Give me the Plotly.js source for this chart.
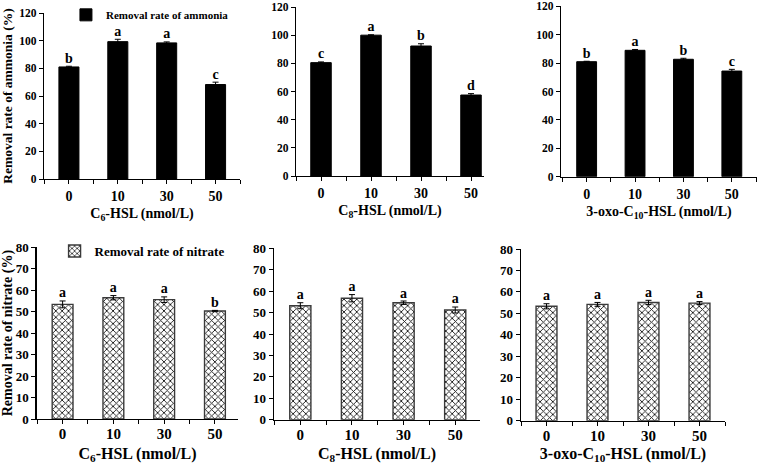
<!DOCTYPE html>
<html>
<head>
<meta charset="utf-8">
<script src="https://cdn.plot.ly/plotly-3.0.1.min.js"></script>
<style>html,body{margin:0;padding:0;background:#fff;}#chart{width:758px;height:464px;}</style>
</head>
<body>
<div id="chart"></div>
<script>
const categories = ['0', '10', '30', '50'];

const ammoniaC6 = [81, 99.3, 98.4, 68.3];
const ammoniaC6Err = [0.5, 1.7, 0.7, 1.7];
const ammoniaC6Letters = ['b', 'a', 'a', 'c'];

const ammoniaC8 = [80.5, 100, 92.3, 57.5];
const ammoniaC8Err = [0.5, 0.3, 1.6, 1.0];
const ammoniaC8Letters = ['c', 'a', 'b', 'd'];

const ammoniaC10 = [81, 89, 82.7, 74.4];
const ammoniaC10Err = [0.3, 0.6, 0.7, 1.2];
const ammoniaC10Letters = ['b', 'a', 'b', 'c'];

const nitrateC6 = [53.4, 56.5, 55.6, 50.3];
const nitrateC6Err = [1.6, 1.0, 1.3, 0.3];
const nitrateC6Letters = ['a', 'a', 'a', 'b'];

const nitrateC8 = [53.2, 56.7, 54.6, 51.2];
const nitrateC8Err = [1.4, 1.7, 0.8, 1.4];
const nitrateC8Letters = ['a', 'a', 'a', 'a'];

const nitrateC10 = [53.3, 54.2, 55.1, 54.8];
const nitrateC10Err = [1.2, 0.9, 1.0, 0.7];
const nitrateC10Letters = ['a', 'a', 'a', 'a'];

const xTitles = ['C<sub>6</sub>-HSL (nmol/L)', 'C<sub>8</sub>-HSL (nmol/L)', '3-oxo-C<sub>10</sub>-HSL (nmol/L)'];
const legendAmmonia = 'Removal rate of ammonia';
const legendNitrate = 'Removal rate of nitrate';
const yTitleAmmonia = 'Removal rate of ammonia (%)';
const yTitleNitrate = 'Removal rate of nitrate (%)';

const FONT = 'Liberation Serif, Times New Roman, serif';
const W = 758, H = 464;
const idx = categories.map((c, i) => i);

// panel geometry (pixels): [axisLeft, axisRight, yZeroPx, yTopPx]
const panels = [
  {vals: ammoniaC6, err: ammoniaC6Err, let: ammoniaC6Letters, px: [44, 240, 179, 13], xr: [-0.51, 3.5], ymax: 120, dy: 20, nitrate: false, title: xTitles[0], name: legendAmmonia, legend: 'legend', showleg: true},
  {vals: ammoniaC8, err: ammoniaC8Err, let: ammoniaC8Letters, px: [296, 484, 176, 7], xr: [-0.5, 3.26], ymax: 120, dy: 20, nitrate: false, title: xTitles[1], name: legendAmmonia, legend: 'legend', showleg: false},
  {vals: ammoniaC10, err: ammoniaC10Err, let: ammoniaC10Letters, px: [561, 757, 176.7, 6.3], xr: [-0.53, 3.52], ymax: 120, dy: 20, nitrate: false, title: xTitles[2], name: legendAmmonia, legend: 'legend', showleg: false},
  {vals: nitrateC6, err: nitrateC6Err, let: nitrateC6Letters, px: [36.7, 238.3, 419, 247.3], xr: [-0.51, 3.46], ymax: 80, dy: 10, nitrate: true, title: xTitles[0], name: legendNitrate, legend: 'legend2', showleg: true},
  {vals: nitrateC8, err: nitrateC8Err, let: nitrateC8Letters, px: [274, 480, 419.7, 248.3], xr: [-0.51, 3.48], ymax: 80, dy: 10, nitrate: true, title: xTitles[1], name: legendNitrate, legend: 'legend2', showleg: false},
  {vals: nitrateC10, err: nitrateC10Err, let: nitrateC10Letters, px: [521, 725, 420.7, 249], xr: [-0.5, 3.5], ymax: 80, dy: 10, nitrate: true, title: xTitles[2], name: legendNitrate, legend: 'legend2', showleg: false}
];

const traces = [];
const layout = {
  width: W, height: H,
  margin: {l: 0, r: 0, t: 0, b: 0},
  paper_bgcolor: '#fff', plot_bgcolor: '#fff',
  font: {family: FONT, color: '#000', weight: 'bold'},
  showlegend: true,
  bargap: 0,
  legend: {x: 0.087, y: 0.968, xanchor: 'left', yanchor: 'middle', bgcolor: 'rgba(0,0,0,0)',
           font: {family: FONT, size: 11, weight: 'bold', color: '#000'}, itemwidth: 30, tracegroupgap: 0},
  legend2: {x: 0.072, y: 0.459, xanchor: 'left', yanchor: 'middle', bgcolor: 'rgba(0,0,0,0)',
           font: {family: FONT, size: 13, weight: 'bold', color: '#000'}, itemwidth: 30, tracegroupgap: 0}
};

panels.forEach((p, k) => {
  const n = k === 0 ? '' : String(k + 1);
  const xa = 'x' + n, ya = 'y' + n;
  const [l, r, y0, y1] = p.px;
  const tickv = [];
  for (let t = Math.ceil(p.xr[0] * 2) / 2; t <= p.xr[1] + 1e-9; t += 0.5) tickv.push(t);
  const tickt = tickv.map(t => Number.isInteger(t) && t >= 0 && t < categories.length ? categories[t] : '');

  const bar = {
    type: 'bar', x: idx, y: p.vals, width: 0.41,
    xaxis: xa, yaxis: ya, name: p.name, legend: p.legend, showlegend: p.showleg,
    marker: p.nitrate
      ? {color: '#fff', line: {color: '#3a3a3a', width: 1.4}, pattern: {shape: 'x', size: 4.5, solidity: 0.35, fgcolor: '#111', bgcolor: '#fff'}}
      : {color: '#000', line: {color: '#000', width: 1}},
    error_y: {type: 'data', array: p.err, visible: true, color: '#000', thickness: 1, width: 3},
    hoverinfo: 'skip'
  };
  traces.push(bar);
  traces.push({
    type: 'scatter', mode: 'text', x: idx, y: p.vals.map((v, i) => v + p.err[i]),
    text: p.let, textposition: 'top center',
    textfont: {family: FONT, size: 14, weight: 'bold', color: '#000'},
    xaxis: xa, yaxis: ya, showlegend: false, hoverinfo: 'skip', cliponaxis: false
  });

  const top = k < 3;
  layout['xaxis' + n] = {
    domain: [l / W, r / W], anchor: ya, range: p.xr, type: 'linear',
    tickmode: 'array', tickvals: tickv, ticktext: tickt,
    ticks: 'outside', ticklen: 4, tickwidth: 1, tickcolor: '#000',
    ticklabelstandoff: top ? 0 : -3,
    showline: true, linecolor: '#000', linewidth: 1.3, showgrid: false, zeroline: false,
    tickfont: {family: FONT, size: top ? 14 : 15, weight: 'bold', color: '#000'},
    title: {text: p.title, standoff: top ? 5 : 9, font: {family: FONT, size: top ? 14 : 16, weight: 'bold', color: '#000'}},
    fixedrange: true
  };
  layout['yaxis' + n] = {
    domain: [(H - y0) / H, (H - y1) / H], anchor: xa, range: [0, p.ymax], dtick: p.dy,
    ticks: 'outside', ticklen: 4, tickwidth: 1, tickcolor: '#000',
    showline: true, linecolor: '#000', linewidth: 1.3, showgrid: false, zeroline: false,
    tickfont: {family: FONT, size: top ? 11.5 : 13, weight: 'bold', color: '#000'},
    fixedrange: true
  };
  if (k === 0) layout['yaxis' + n].title = {text: yTitleAmmonia, standoff: 4, font: {family: FONT, size: 13.5, weight: 'bold', color: '#000'}};
  if (k === 3) layout['yaxis' + n].title = {text: yTitleNitrate, standoff: 4, font: {family: FONT, size: 14, weight: 'bold', color: '#000'}};
});

Plotly.newPlot('chart', traces, layout, {displayModeBar: false, staticPlot: true});
</script>
</body>
</html>
